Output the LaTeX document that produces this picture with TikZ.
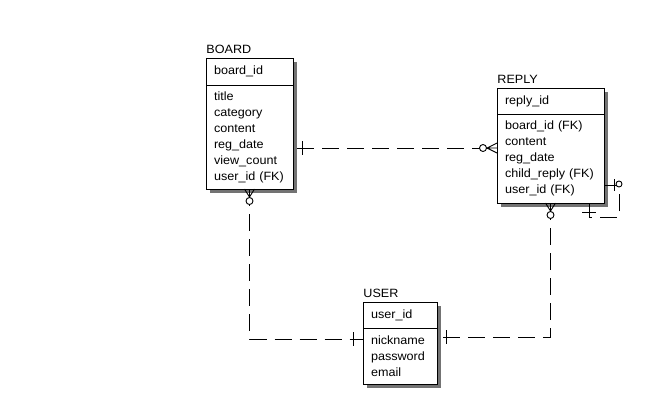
\documentclass[tikz,border=0pt]{standalone}
\usepackage{fontspec}
\setmainfont{Liberation Sans}[FakeStretch=1.05]
\usetikzlibrary{positioning,calc,shadows}

\begin{document}
\begin{tikzpicture}[x=1pt, y=-1pt, line width=0.9pt,
    entName/.style={anchor=base west, inner sep=0pt, font=\fontsize{12}{16}\selectfont},
    keyBox/.style={draw, fill=white, anchor=north west, text width=#1, inner xsep=8pt, inner ysep=0pt,
        outer sep=0pt, minimum height=27pt, align=left, font=\fontsize{12}{16}\selectfont,
        drop shadow={shadow xshift=4pt, shadow yshift=-4pt, fill=black!55, opacity=1}},
    attrBox/.style={keyBox=#1, anchor=north},
    relLine/.style={dash pattern=on 17pt off 8pt}]
    \useasboundingbox (0,0) rectangle (661,400);

    % BOARD
    \node[entName] (boardName) at (206,53) {BOARD};
    \node[keyBox=71pt] (boardKey) at (206,58) {board\_id};
    \node[attrBox=71pt, minimum height=104pt, below=0pt of boardKey] (boardAttr)
        {title\\category\\content\\reg\_date\\view\_count\\user\_id (FK)};

    % REPLY
    \node[entName] (replyName) at (497,83) {REPLY};
    \node[keyBox=91pt, minimum height=26pt] (replyKey) at (497,88) {reply\_id};
    \node[attrBox=91pt, minimum height=89pt, below=0pt of replyKey] (replyAttr)
        {board\_id (FK)\\content\\reg\_date\\child\_reply (FK)\\user\_id (FK)};

    % USER
    \node[entName] (userName) at (363,297) {USER};
    \node[keyBox=58pt, minimum height=26pt] (userKey) at (363,302) {user\_id};
    \node[attrBox=58pt, minimum height=56pt, below=0pt of userKey] (userAttr)
        {nickname\\password\\email};

    % BOARD - REPLY
    \coordinate (brA) at ([xshift=4pt]boardAttr.east |- 0,148);
    \coordinate (brB) at (replyAttr.west |- 0,148);
    \draw[relLine] (brA) -- (brB);
    \draw ($(brA)+(5,-7)$) -- ++(0,14);
    \draw ($(brB)+(0,-5)$) -- ($(brB)+(-10,0)$) -- ($(brB)+(0,5)$) (brB) -- ++(-10,0);
    \draw[fill=white] ($(brB)+(-14,0)$) circle[radius=3.5pt];

    % BOARD - USER
    \coordinate (buB) at (userAttr.west |- 0,339);
    \draw[relLine] (boardAttr.south) |- (buB);
    \draw ($(boardAttr.south)+(-5,0)$) -- ($(boardAttr.south)+(0,8)$) -- ($(boardAttr.south)+(5,0)$)
        (boardAttr.south) -- ++(0,8);
    \draw[fill=white] ($(boardAttr.south)+(0,12)$) circle[radius=3.5pt];
    \draw ($(buB)+(-10,-7)$) -- ++(0,14);

    % REPLY - USER
    \coordinate (ruB) at ([xshift=4pt]userAttr.east |- 0,337);
    \draw[relLine] (replyAttr.south) |- (ruB);
    \draw ($(replyAttr.south)+(-5,0)$) -- ($(replyAttr.south)+(0,8)$) -- ($(replyAttr.south)+(5,0)$)
        (replyAttr.south) -- ++(0,8);
    \draw[fill=white] ($(replyAttr.south)+(0,12)$) circle[radius=3.5pt];
    \draw ($(ruB)+(5,-7)$) -- ++(0,14);

    % REPLY - REPLY
    \coordinate (rrA) at ($(replyAttr.south east)+(-15,0)$);
    \coordinate (rrB) at (replyAttr.east |- 0,185);
    \draw[relLine] (rrA) -- ++(0,14) -| ($(rrB)+(15,0)$) -- (rrB);
    \draw ($(rrA)+(-7,9)$) -- ++(14,0);
    \draw ($(rrB)+(10,-6)$) -- ++(0,12);
    \draw[fill=white] ($(rrB)+(15,-1)$) circle[radius=3pt];
\end{tikzpicture}
\end{document}
